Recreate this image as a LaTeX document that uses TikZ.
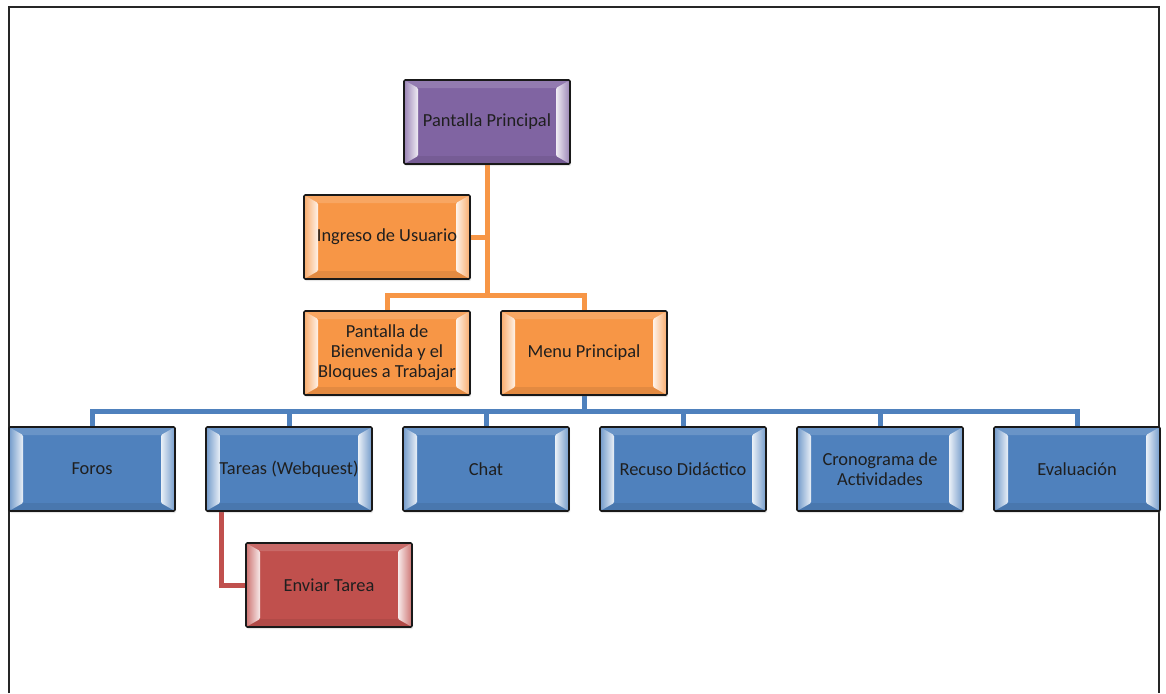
\documentclass[tikz,border=0pt]{standalone}
\usepackage{fontspec}
\setmainfont{Carlito}
\usetikzlibrary{backgrounds,shadows}
\definecolor{cpurple}{HTML}{8064A2}
\definecolor{corange}{HTML}{F79646}
\definecolor{cblue}{HTML}{4F81BD}
\definecolor{cred}{HTML}{C0504D}
\begin{document}
\begin{tikzpicture}[x=1pt,y=-1pt,
  bev/.style={draw=black!90, line width=1.6pt, rounded corners=1.2pt, fill=#1,
    minimum width=166pt, minimum height=84pt, inner sep=0pt, align=center,
    text=black!88, font=\fontsize{18.4}{20}\selectfont,
    drop shadow={opacity=0.2,shadow xshift=1pt,shadow yshift=-2pt},
    path picture={
      \fill[#1!85!white] (path picture bounding box.north west) -- (path picture bounding box.north east)
        -- ([shift={(-14,8)}]path picture bounding box.north east) -- ([shift={(14,8)}]path picture bounding box.north west) -- cycle;
      \fill[#1!92!black] (path picture bounding box.south west) -- (path picture bounding box.south east)
        -- ([shift={(-14,-8)}]path picture bounding box.south east) -- ([shift={(14,-8)}]path picture bounding box.south west) -- cycle;
      \shade[left color=#1!80!white, right color=#1!12!white] (path picture bounding box.north west) -- ([shift={(14,8)}]path picture bounding box.north west)
        -- ([shift={(14,-8)}]path picture bounding box.south west) -- (path picture bounding box.south west) -- cycle;
      \shade[left color=#1!12!white, right color=#1!80!white] (path picture bounding box.north east) -- ([shift={(-14,8)}]path picture bounding box.north east)
        -- ([shift={(-14,-8)}]path picture bounding box.south east) -- (path picture bounding box.south east) -- cycle;
    }},
  conn/.style={line width=5pt, draw=#1},
  frame/.style={line width=2pt, draw=black!85}
]
\useasboundingbox (0,0) rectangle (1166,693);
\draw[frame] (9,693) -- (9,7) -- (1159,7) -- (1159,693);

\node[bev=cpurple] (pp) at (487,122) {Pantalla Principal};
\node[bev=corange] (ing) at (387,237) {Ingreso de Usuario};
\node[bev=corange] (bien) at (387,353) {Pantalla de\\Bienvenida y el\\Bloques a Trabajar};
\node[bev=corange] (menu) at (584,353) {Menu Principal};
\node[bev=cblue] (foros) at (92,469) {Foros};
\node[bev=cblue] (tareas) at (289,469) {Tareas (Webquest)};
\node[bev=cblue] (chat) at (486,469) {Chat};
\node[bev=cblue] (recurso) at (683,469) {Recuso Didáctico};
\node[bev=cblue] (crono) at (880,469) {Cronograma de\\Actividades};
\node[bev=cblue] (eval) at (1077,469) {Evaluación};
\node[bev=cred] (env) at (329,585) {Enviar Tarea};

\coordinate (oj) at (487,295);
\coordinate (bj) at (584,411);

\begin{scope}[on background layer]
  \draw[conn=corange] (pp.south) -- (oj);
  \draw[conn=corange] (ing.east) -- (ing.east -| oj);
  \draw[conn=corange] (bien.north) |- (oj) -| (menu.north);
  \draw[conn=cblue] (menu.south) -- (bj);
  \draw[conn=cblue] (foros.north) |- (bj) -| (eval.north);
  \draw[conn=cblue] (tareas.north) -- (tareas.north |- bj);
  \draw[conn=cblue] (chat.north) -- (chat.north |- bj);
  \draw[conn=cblue] (recurso.north) -- (recurso.north |- bj);
  \draw[conn=cblue] (crono.north) -- (crono.north |- bj);
  \draw[conn=cred] ([xshift=16pt]tareas.south west) |- (env.west);
\end{scope}
\end{tikzpicture}
\end{document}
